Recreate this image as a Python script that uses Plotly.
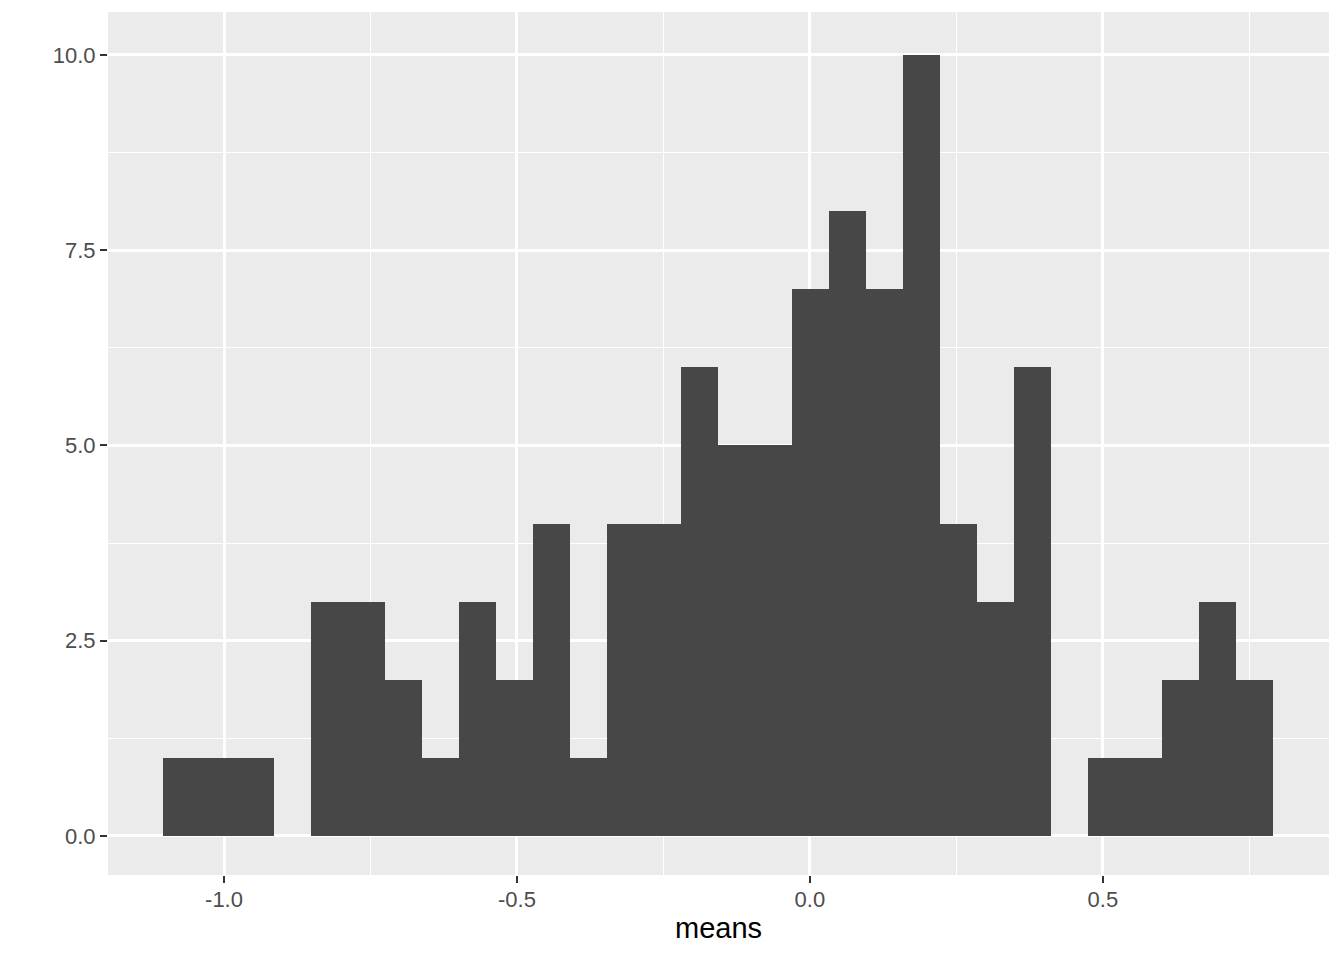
import plotly.graph_objects as go

# Histogram of "means": 30 bins, bin centers and counts
bin_centers = [-1.0725, -1.0094, -0.9462, -0.8831, -0.8200, -0.7568, -0.6937, -0.6305,
               -0.5674, -0.5043, -0.4411, -0.3780, -0.3148, -0.2517, -0.1886, -0.1254,
               -0.0623, 0.0009, 0.0640, 0.1271, 0.1903, 0.2534, 0.3166, 0.3797,
               0.4428, 0.5060, 0.5691, 0.6323, 0.6954, 0.7585]
counts = [1, 1, 1, 0, 3, 3, 2, 1, 3, 2, 4, 1, 4, 4, 6, 5, 5, 7, 8, 7, 10, 4, 3, 6,
          0, 1, 1, 2, 3, 2]
bin_width = 0.06314

x_tick_vals = [-1.0, -0.5, 0.0, 0.5]
x_tick_text = ["-1.0", "-0.5", "0.0", "0.5"]
y_tick_vals = [0.0, 2.5, 5.0, 7.5, 10.0]
y_tick_text = ["0.0", "2.5", "5.0", "7.5", "10.0"]

fig = go.Figure(
    go.Bar(
        x=bin_centers,
        y=counts,
        width=[bin_width] * len(bin_centers),
        marker=dict(color="#474747", line=dict(width=0)),
        hoverinfo="x+y",
    )
)

fig.update_layout(
    width=1336,
    height=952,
    margin=dict(l=100, r=15, t=4, b=85),
    paper_bgcolor="white",
    plot_bgcolor="#EBEBEB",
    bargap=0,
    showlegend=False,
    font=dict(family="Liberation Sans, Arial, sans-serif"),
    xaxis=dict(
        range=[-1.198, 0.886],
        tickvals=x_tick_vals,
        ticktext=x_tick_text,
        showgrid=True,
        gridcolor="white",
        gridwidth=2.5,
        zeroline=False,
        ticks="outside",
        ticklen=7,
        tickwidth=2,
        tickcolor="#333333",
        tickfont=dict(size=22, color="#4D4D4D"),
        ticklabelstandoff=-2,
        minor=dict(tickvals=[-0.75, -0.25, 0.25, 0.75], showgrid=True,
                   gridcolor="white", gridwidth=1.3, ticks=""),
        title=dict(text="means", font=dict(size=29, color="black"), standoff=6),
        showline=False,
    ),
    yaxis=dict(
        range=[-0.5, 10.55],
        tickvals=y_tick_vals,
        ticktext=y_tick_text,
        showgrid=True,
        gridcolor="white",
        gridwidth=2.5,
        zeroline=False,
        ticks="outside",
        ticklen=7,
        tickwidth=2,
        tickcolor="#333333",
        tickfont=dict(size=22, color="#4D4D4D"),
        minor=dict(tickvals=[1.25, 3.75, 6.25, 8.75], showgrid=True,
                   gridcolor="white", gridwidth=1.3, ticks=""),
        showline=False,
    ),
)

fig.write_html("out.html")
